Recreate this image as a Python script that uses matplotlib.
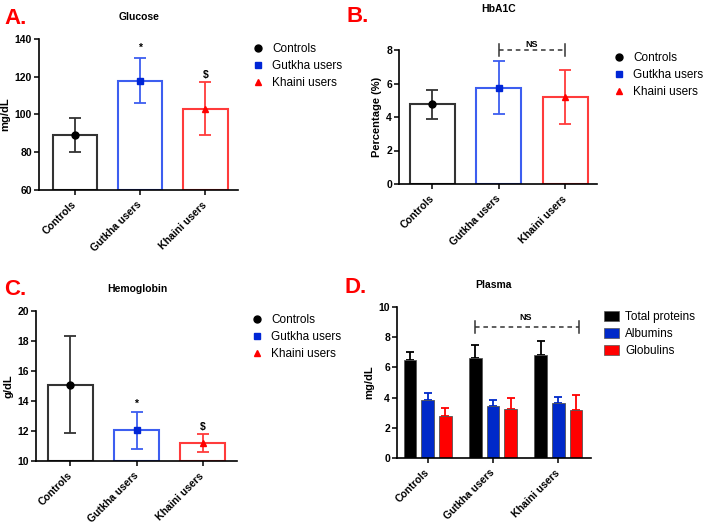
import numpy as np
import matplotlib
matplotlib.use('Agg')
import matplotlib.pyplot as plt
from matplotlib.lines import Line2D
from matplotlib.patches import Patch

plt.rcParams['font.family'] = ['Liberation Sans', 'DejaVu Sans']

# ---- data ----
groups = ['Controls', 'Gutkha users', 'Khaini users']

glucose_mean = [89, 118, 103]
glucose_sd = [9, 12, 14]

hba1c_mean = [4.75, 5.75, 5.2]
hba1c_sd = [0.85, 1.57, 1.6]

hb_mean = [15.1, 12.05, 11.2]
hb_sd = [3.25, 1.22, 0.6]

plasma_series = ['Total proteins', 'Albumins', 'Globulins']
total_mean = [6.47, 6.62, 6.82]
total_sd = [0.55, 0.84, 0.95]
albumin_mean = [3.82, 3.47, 3.64]
albumin_sd = [0.5, 0.35, 0.38]
globulin_mean = [2.76, 3.22, 3.2]
globulin_sd = [0.55, 0.75, 0.95]

edge_cols = ['#333333', '#3d5ef0', '#ff3b3b']
mark_cols = ['black', '#0026d6', '#ff0000']
markers = ['o', 's', '^']
plasma_cols = ['black', '#0029c9', '#ff0000']

W, H = 705, 525
fig = plt.figure(figsize=(W / 100, H / 100), dpi=100)


def px_axes(left, top, right, bottom):
    # axes placed by pixel edges
    return fig.add_axes([left / W, 1 - bottom / H, (right - left) / W, (bottom - top) / H])


def style_axes(ax):
    for s in ['top', 'right']:
        ax.spines[s].set_visible(False)
    for s in ['left', 'bottom']:
        ax.spines[s].set_linewidth(1.2)
    ax.tick_params(axis='both', direction='out', length=3.5, width=1.1)
    ax.tick_params(axis='y', labelsize=7.5, pad=1.5)
    for t in ax.get_yticklabels():
        t.set_fontweight('bold')
    ax.set_xticks(range(len(groups)))
    ax.set_xticklabels(groups, rotation=45, ha='right', va='center',
                       rotation_mode='anchor', fontsize=7.5, fontweight='bold')
    ax.tick_params(axis='x', pad=6)


def group_legend(ax, x, y):
    handles = [Line2D([], [], ls='none', marker=m, color=c, markersize=5)
               for m, c in zip(markers, mark_cols)]
    ax.legend(handles, groups, loc='upper left', bbox_to_anchor=(x / W, 1 - y / H),
              bbox_transform=fig.transFigure, frameon=False, fontsize=8.5,
              handlelength=1.0, handletextpad=0.7, labelspacing=0.42, borderpad=0,
              borderaxespad=0)


def bar_panel(ax, means, sds, ylim, yticks, ylabel, xlim):
    x = np.arange(len(groups))
    for i in range(len(groups)):
        ax.bar(x[i], means[i] - ylim[0], bottom=ylim[0], width=0.68, facecolor='white',
               edgecolor=edge_cols[i], linewidth=1.5, zorder=2)
        ax.errorbar(x[i], means[i], yerr=sds[i], color=edge_cols[i], capsize=4,
                    elinewidth=1.3, capthick=1.3, zorder=3)
        ax.plot(x[i], means[i], marker=markers[i], color=mark_cols[i], markersize=5, zorder=4)
    ax.set_ylim(*ylim)
    ax.set_yticks(yticks)
    ax.set_xlim(*xlim)
    ax.set_ylabel(ylabel, fontsize=8, fontweight='bold', labelpad=3)
    style_axes(ax)


def panel_letter(x, y, s):
    fig.text(x / W, 1 - y / H, s, color='#ff0000', fontsize=16, fontweight='bold',
             va='baseline', ha='left')


def title_at(x, y, s):
    fig.text(x / W, 1 - y / H, s, fontsize=7.5, fontweight='bold', ha='center', va='center')


# A. Glucose
axA = px_axes(39, 39, 238, 190)
bar_panel(axA, glucose_mean, glucose_sd, (60, 140), range(60, 141, 20), 'mg/dL', (-0.55, 2.5))
axA.text(1, glucose_mean[1] + glucose_sd[1] + 2.5, '*', ha='center', va='bottom',
         fontsize=7.5, fontweight='bold')
axA.text(2, glucose_mean[2] + glucose_sd[2] + 1.5, '$', ha='center', va='bottom',
         fontsize=7.5, fontweight='bold')
group_legend(axA, 252, 43)
panel_letter(4, 24, 'A.')
title_at(139, 17, 'Glucose')

# B. HbA1C
axB = px_axes(399, 50, 597, 184)
bar_panel(axB, hba1c_mean, hba1c_sd, (0, 8), range(0, 9, 2), 'Percentage (%)', (-0.5, 2.48))
axB.plot([1, 2], [8, 8], ls=(0, (3, 2.5)), color='#333333', lw=1.1, clip_on=False)
axB.plot([1, 1], [7.65, 8.35], color='#333333', lw=1.1, clip_on=False)
axB.plot([2, 2], [7.65, 8.35], color='#333333', lw=1.1, clip_on=False)
axB.text(1.5, 8.05, 'NS', ha='center', va='bottom', fontsize=6.5, fontweight='bold', clip_on=False)
group_legend(axB, 613, 52)
panel_letter(346, 22, 'B.')
title_at(499, 9, 'HbA1C')

# C. Hemoglobin
axC = px_axes(36, 311, 237, 461)
bar_panel(axC, hb_mean, hb_sd, (10, 20), range(10, 21, 2), 'g/dL', (-0.52, 2.52))
axC.text(1, hb_mean[1] + hb_sd[1] + 0.2, '*', ha='center', va='bottom',
         fontsize=7.5, fontweight='bold')
axC.text(2, hb_mean[2] + hb_sd[2] + 0.15, '$', ha='center', va='bottom',
         fontsize=7.5, fontweight='bold')
group_legend(axC, 251, 314)
panel_letter(4, 295, 'C.')
title_at(137, 289, 'Hemoglobin')

# D. Plasma
axD = px_axes(397, 307, 591, 458)
xg = np.arange(len(groups))
offsets = [-0.27, 0, 0.27]
plasma_means = [total_mean, albumin_mean, globulin_mean]
plasma_sds = [total_sd, albumin_sd, globulin_sd]
for k in range(3):
    xs = xg + offsets[k]
    axD.bar(xs, plasma_means[k], width=0.19, color=plasma_cols[k], edgecolor='#555555',
            linewidth=0.6, zorder=2)
    axD.errorbar(xs, plasma_means[k], yerr=[np.zeros(3), plasma_sds[k]], ls='none',
                 color=plasma_cols[k], capsize=3, elinewidth=1.3, capthick=1.3, zorder=1)
axD.set_ylim(0, 10)
axD.set_yticks(range(0, 11, 2))
axD.set_xlim(-0.47, 2.5)
axD.set_ylabel('mg/dL', fontsize=8, fontweight='bold', labelpad=3)
style_axes(axD)
axD.plot([0.73, 2.32], [8.68, 8.68], ls=(0, (3, 2.5)), color='#333333', lw=1.1, clip_on=False)
axD.plot([0.73, 0.73], [8.25, 9.1], color='#333333', lw=1.1, clip_on=False)
axD.plot([2.32, 2.32], [8.25, 9.1], color='#333333', lw=1.1, clip_on=False)
axD.text(1.5, 9.0, 'NS', ha='center', va='bottom', fontsize=6.5, fontweight='bold')
handles = [Patch(facecolor=c, edgecolor='#555555', linewidth=0.5) for c in plasma_cols]
axD.legend(handles, plasma_series, loc='upper left', bbox_to_anchor=(604 / W, 1 - 311 / H),
           bbox_transform=fig.transFigure, frameon=False, fontsize=8.5,
           handlelength=1.3, handleheight=0.85, handletextpad=0.5, labelspacing=0.42,
           borderpad=0, borderaxespad=0)
panel_letter(344, 293, 'D.')
title_at(493, 285, 'Plasma')

fig.savefig('out.png', dpi=100)
